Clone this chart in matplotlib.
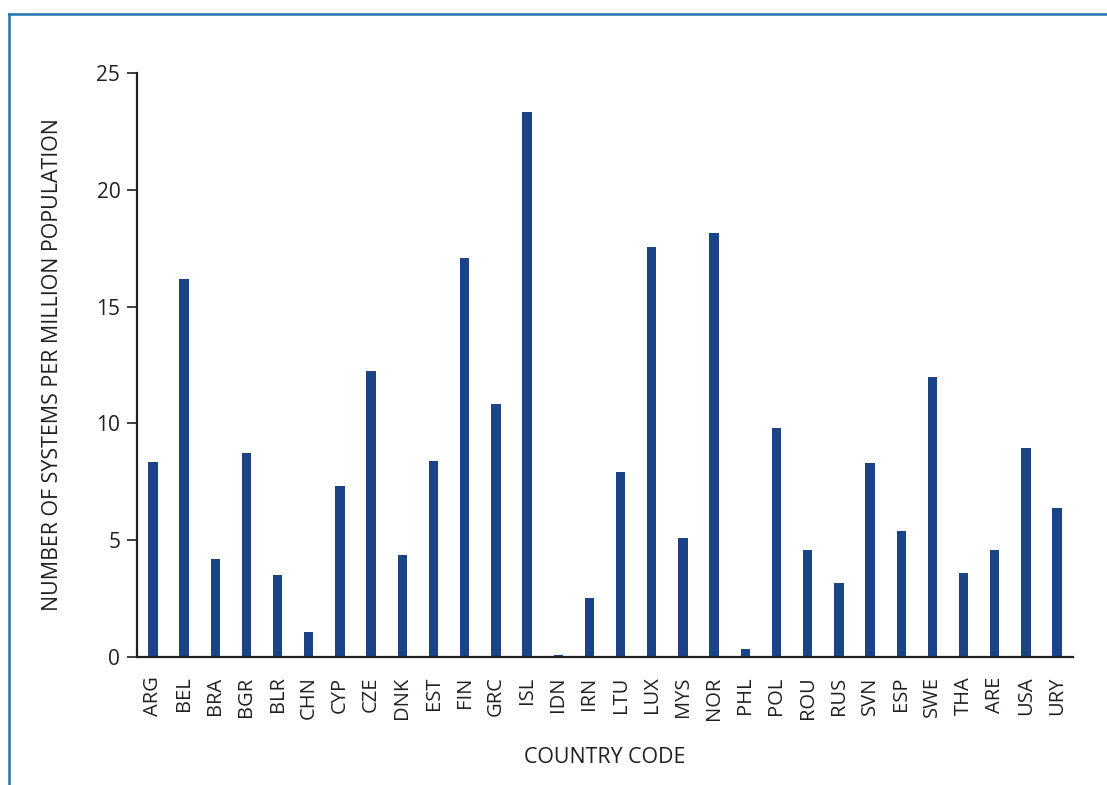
import numpy as np
import matplotlib
matplotlib.use("Agg")
import matplotlib.pyplot as plt
from matplotlib.lines import Line2D

plt.rcParams['font.family'] = ['Open Sans', 'DejaVu Sans']

countries = ["ARG", "BEL", "BRA", "BGR", "BLR", "CHN", "CYP", "CZE", "DNK", "EST",
             "FIN", "GRC", "ISL", "IDN", "IRN", "LTU", "LUX", "MYS", "NOR", "PHL",
             "POL", "ROU", "RUS", "SVN", "ESP", "SWE", "THA", "ARE", "USA", "URY"]
systems_per_million = [8.34, 16.17, 4.18, 8.73, 3.49, 1.05, 7.33, 12.25, 4.36, 8.37,
                       17.1, 10.85, 23.32, 0.07, 2.53, 7.94, 17.53, 5.11, 18.15, 0.33,
                       9.79, 4.57, 3.15, 8.31, 5.39, 11.99, 3.58, 4.57, 8.93, 6.38]
yticks = [0, 5, 10, 15, 20, 25]

ink = '#231f20'
bar_col = '#1b4487'

fig = plt.figure(figsize=(11.07, 7.85), dpi=100)
ax = fig.add_axes([137 / 1107, 128 / 785, (1073 - 137) / 1107, (657 - 73) / 785])

x = np.arange(len(countries))
ax.bar(x, systems_per_million, width=0.3, color=bar_col)

ax.set_xlim(-0.51, len(countries) - 0.49)
ax.set_ylim(0, 25)
ax.set_yticks(yticks)
ax.set_xticks(x)
ax.set_xticklabels(countries, rotation=90, fontsize=14.5, color=ink)
ax.tick_params(axis='x', length=0, pad=14)
ax.tick_params(axis='y', length=7, width=1.2, color=ink, labelsize=15, labelcolor=ink, pad=5)

for s in ['top', 'right']:
    ax.spines[s].set_visible(False)
for s in ['left', 'bottom']:
    ax.spines[s].set_linewidth(1.6)
    ax.spines[s].set_color(ink)

ax.set_ylabel("NUMBER OF SYSTEMS PER MILLION POPULATION", fontsize=15.4, color=ink, labelpad=24)
ax.set_xlabel("COUNTRY CODE", fontsize=15.4, color=ink, labelpad=20)

# blue frame at the top and left of the figure
frame = '#2175ab'
fig.add_artist(Line2D([9 / 1107, 1.0], [1 - 14 / 785, 1 - 14 / 785], color=frame, lw=1.8,
                      transform=fig.transFigure))
fig.add_artist(Line2D([9 / 1107, 9 / 1107], [0, 1 - 14 / 785], color=frame, lw=1.8,
                      transform=fig.transFigure))

fig.savefig("out.png", dpi=100)
